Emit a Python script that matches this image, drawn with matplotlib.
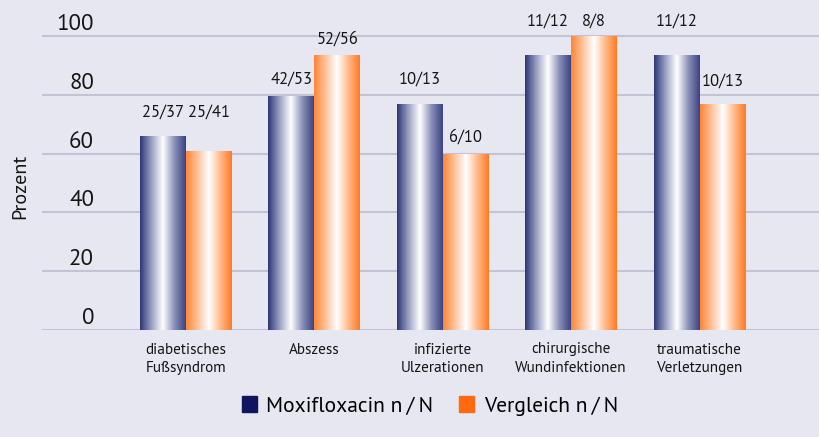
import numpy as np
import matplotlib.pyplot as plt
from matplotlib.colors import LinearSegmentedColormap
from matplotlib.patches import Patch

plt.rcParams['font.family'] = ['PT Sans', 'DejaVu Sans']

# Data
categories = ['diabetisches\nFußsyndrom', 'Abszess', 'infizierte\nUlzerationen',
              'chirurgische\nWundinfektionen', 'traumatische\nVerletzungen']
moxi = [66, 79.6, 77, 93.5, 93.5]
vergl = [61, 93.5, 60, 100, 77]
moxi_lbl = ['25/37', '42/53', '10/13', '11/12', '11/12']
vergl_lbl = ['25/41', '52/56', '6/10', '8/8', '10/13']
# height (in %) where each n/N label sits
moxi_lbl_y = [73.8, 85, 85, 104.8, 104.8]
vergl_lbl_y = [73.8, 98.6, 65.6, 104.8, 84.4]
yticks = [0, 20, 40, 60, 80, 100]

bg = '#e6e7f0'
grid_c = '#c3c3d6'
txt = '#151515'
blue_cm = LinearSegmentedColormap.from_list('b', ['#2e3675', '#9aa0c4', '#ffffff', '#8a90b8', '#3a4282'])
orange_cm = LinearSegmentedColormap.from_list('o', ['#ff8436', '#ffc29a', '#ffffff', '#ffb98a', '#ff7a22'])

fig = plt.figure(figsize=(8.19, 4.37), dpi=100, facecolor=bg)
ax = fig.add_axes([42 / 819, 1 - 330 / 437, 777 / 819, 330 / 437])
ax.set_facecolor(bg)

x = np.arange(len(categories))
w = 0.358
ax.set_xlim(-1.12, 4.93)
ax.set_ylim(0, 112.2)

for t in yticks:
    ax.axhline(t, color=grid_c, lw=1.5, zorder=1)

grad = np.linspace(0, 1, 256).reshape(1, -1)
for vals, off, cm in [(moxi, -w / 2, blue_cm), (vergl, w / 2, orange_cm)]:
    bars = ax.bar(x + off, vals, w, color='none', edgecolor='none', zorder=2)
    for b in bars:
        im = ax.imshow(grad, cmap=cm, aspect='auto', zorder=2,
                       extent=[b.get_x(), b.get_x() + b.get_width(), 0, b.get_height()])
        im.set_clip_path(b)

for i in range(len(categories)):
    ax.text(x[i] - w / 2, moxi_lbl_y[i], moxi_lbl[i], ha='center', va='center',
            fontsize=12, color=txt)
    ax.text(x[i] + w / 2, vergl_lbl_y[i], vergl_lbl[i], ha='center', va='center',
            fontsize=12, color=txt)

# y tick labels sit above the grid lines inside the plot
for t in yticks:
    ax.annotate(str(t), xy=(0.067, t), xycoords=('axes fraction', 'data'),
                xytext=(0, 4.3), textcoords='offset points', ha='right', va='baseline',
                fontsize=16.5, color=txt)

ax.set_xticks(x)
ax.set_xticklabels(categories, fontsize=11, color=txt, linespacing=1.4)
ax.tick_params(axis='x', length=0, pad=9)
ax.set_yticks([])
for s in ax.spines.values():
    s.set_visible(False)

fig.text(20 / 819, 1 - 186 / 437, 'Prozent', rotation=90, ha='center', va='center',
         fontsize=14.5, color=txt)

handles = [Patch(color='#101560', label='Moxifloxacin n\u2009/\u2009N'),
           Patch(color='#ff6a10', label='Vergleich n\u2009/\u2009N')]
fig.legend(handles=handles, loc='center', bbox_to_anchor=(0.525, 0.071), ncol=2,
           frameon=False, fontsize=15.5, handlelength=0.7, handleheight=0.75,
           handletextpad=0.45, columnspacing=1.2)

fig.savefig('out.png', dpi=100, facecolor=bg)
